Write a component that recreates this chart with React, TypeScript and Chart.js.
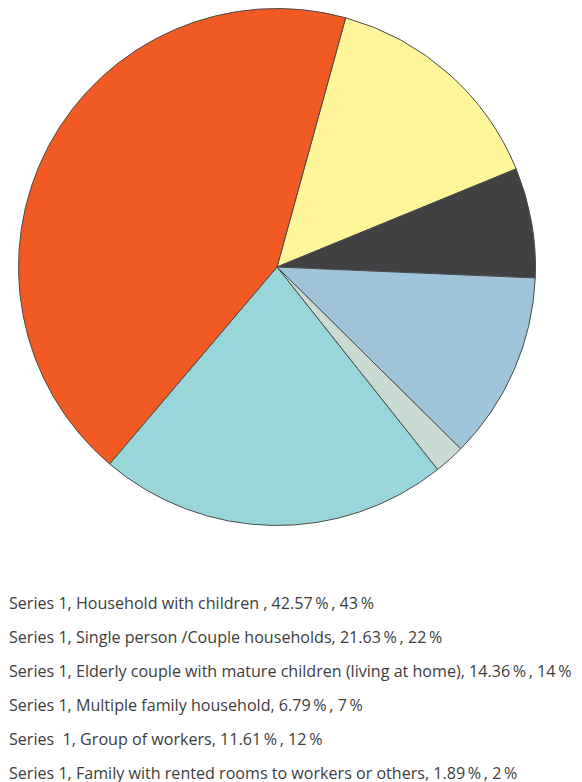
import React, { useEffect, useRef } from "react";
import { Chart, registerables } from "chart.js";

Chart.register(...registerables);

// Household types, in the order the description list shows them
const categories = [
  "Household with children ",
  "Single person /Couple households",
  "Elderly couple with mature children (living at home)",
  "Multiple family household",
  "Group of workers",
  "Family with rented rooms to workers or others",
];
const shares = [42.57, 21.63, 14.36, 6.79, 11.61, 1.89];
const rounded = [43, 22, 14, 7, 12, 2];
const seriesPrefixes = ["Series 1", "Series 1", "Series 1", "Series 1", "Series  1", "Series 1"];
const sliceColors = ["#F15A22", "#98D6DA", "#FFF59B", "#414042", "#A0C4DA", "#C8DAD2"];

// Slices run clockwise in this order, starting at the yellow one
const drawOrder = [2, 3, 4, 5, 1, 0];

const THIN = "\u2009";

export default function App() {
  const ref = useRef<HTMLCanvasElement>(null);

  useEffect(() => {
    if (!ref.current) return;
    const chart = new Chart(ref.current, {
      type: "pie",
      data: {
        labels: drawOrder.map((i) => categories[i]),
        datasets: [
          {
            data: drawOrder.map((i) => shares[i]),
            backgroundColor: drawOrder.map((i) => sliceColors[i]),
            borderColor: "#4a4a4a",
            borderWidth: 1,
          },
        ],
      },
      options: {
        responsive: false,
        animation: false,
        rotation: 15.4,
        layout: { padding: 0 },
        plugins: {
          legend: { display: false },
          tooltip: { enabled: false },
        },
      },
    });
    return () => chart.destroy();
  }, []);

  return (
    <div style={{ fontFamily: "'Open Sans', sans-serif" }}>
      <canvas ref={ref} width={538} height={518} style={{ display: "block", width: 538, height: 518 }} />
      <div style={{ marginTop: 60, marginLeft: 1, color: "#3d3d3d", fontSize: 16.1 }}>
        {categories.map((c, i) => (
          <div key={i} style={{ height: 34, lineHeight: "34px", whiteSpace: "pre" }}>
            {`${seriesPrefixes[i]}, ${c}, ${shares[i].toFixed(2)}${THIN}%${THIN}, ${rounded[i]}${THIN}%`}
          </div>
        ))}
      </div>
    </div>
  );
}
